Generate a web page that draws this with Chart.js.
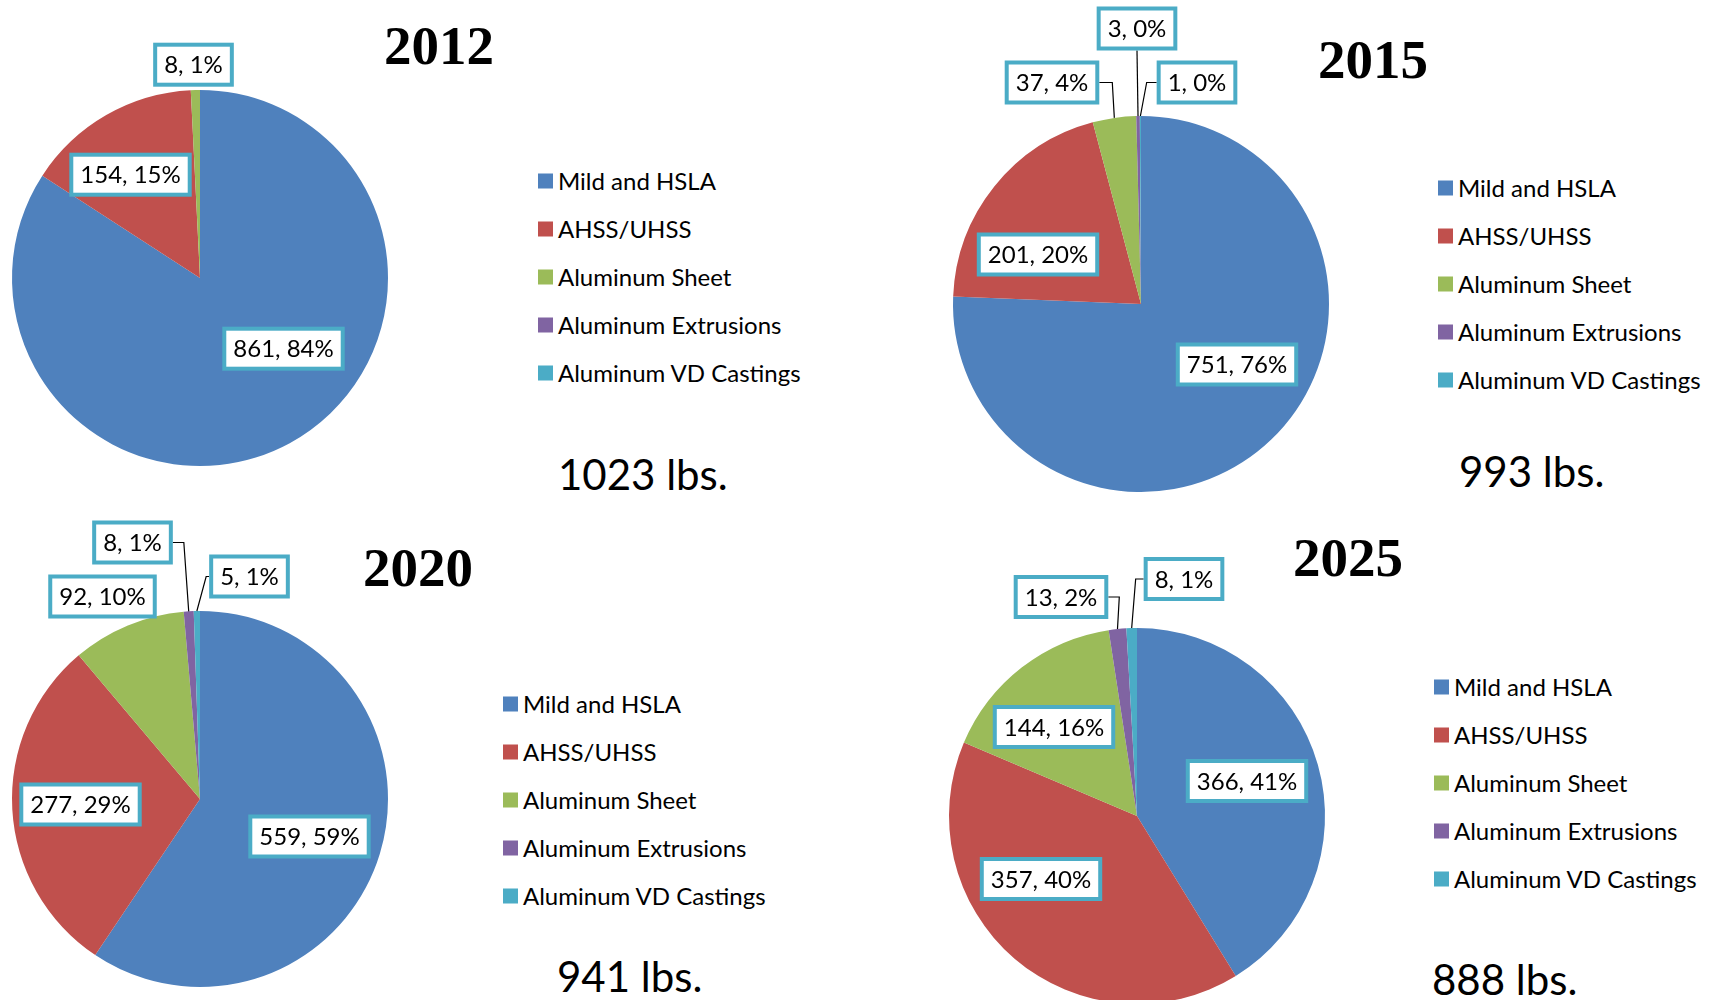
<!DOCTYPE html>
<html>
<head>
<meta charset="utf-8">
<title>Vehicle material mix</title>
<script src="https://cdn.jsdelivr.net/npm/chart.js@4.4.0/dist/chart.umd.min.js"></script>
<style>
  html, body { margin: 0; padding: 0; background: #fff; }
  body { width: 1721px; height: 1000px; position: relative; overflow: hidden; font-family: Lato, "Open Sans", sans-serif; color: #000; }
  canvas.pie { position: absolute; }
  .title { position: absolute; font-family: "Liberation Serif", serif; font-weight: bold; font-size: 55px; line-height: 1; transform: translate(-50%, -50%); white-space: nowrap; }
  .item { position: absolute; font-size: 24px; line-height: 1; white-space: nowrap; transform: translateY(-50%); }
  .swatch { position: absolute; width: 15px; height: 15px; transform: translateY(-50%); }
  .total { position: absolute; font-size: 42px; line-height: 1; white-space: nowrap; transform: translateY(-50%); }
</style>
</head>
<body>
<script>
  const categories = ["Mild and HSLA", "AHSS/UHSS", "Aluminum Sheet", "Aluminum Extrusions", "Aluminum VD Castings"];
  const years = ["2012", "2015", "2020", "2025"];

  // lbs per vehicle, per material
  const values2012 = [861, 154, 8, 0, 0];
  const values2015 = [751, 201, 37, 3, 1];
  const values2020 = [559, 277, 92, 8, 5];
  const values2025 = [366, 357, 144, 13.4, 8];

  const colors = ["#4F81BD", "#C0504D", "#9BBB59", "#8064A2", "#4BACC6"];

  // where each panel sits on the page; spots = label box offset from pie centre [dx, dy, leader, elbow]
  const panels = [
    { values: values2012, year: years[0], cx: 199.5, cy: 278.3, title: [439, 45], legend: [538, 181], total: [558, 474],
      spots: [[83.5, 70.7], [-69.5, -103.3], [-6.5, -213.3], null, null] },
    { values: values2015, year: years[1], cx: 1141, cy: 303.5, title: [1373, 59], legend: [1438, 188], total: [1459, 471],
      spots: [[96, 60.5], [-103, -49.5], [-89, -221.5, "left", 13], [-4, -275.5, "down"], [56, -221.5, "right", 10]] },
    { values: values2020, year: years[2], cx: 199.5, cy: 798.5, title: [418, 567], legend: [503, 704], total: [557, 976],
      spots: [[109.5, 37.5], [-119.5, 5.5], [-97.5, -202.5], [-67.5, -256.5, "left", 11], [49.5, -222.5, "right", 3]] },
    { values: values2025, year: years[3], cx: 1137, cy: 816, title: [1348, 557], legend: [1434, 687], total: [1432, 979],
      spots: [[110, -35], [-96, 63], [-83, -89], [-76, -219, "left", 11], [47, -237, "right", 8]] }
  ];

  const R = 188;
  const CW = 480, CH = 600;

  // boxed "value, pct%" labels like the Excel data labels
  const boxLabels = {
    id: "boxLabels",
    afterDraw(chart, args, opts) {
      const ctx = chart.ctx;
      const meta = chart.getDatasetMeta(0);
      const values = chart.data.datasets[0].data;
      const total = values.reduce((a, b) => a + b, 0);
      ctx.save();
      ctx.font = "24px Lato";
      const capH = ctx.measureText("0").actualBoundingBoxAscent;
      meta.data.forEach((arc, i) => {
        const spot = opts.spots[i];
        if (!spot || !values[i]) return;
        const p = arc.getProps(["x", "y", "startAngle", "endAngle", "outerRadius"], true);
        const text = Math.round(values[i]) + ", " + Math.round(values[i] / total * 100) + "%";
        const w = ctx.measureText(text).width + 18;
        const h = 40;
        const bx = p.x + spot[0];
        const by = p.y + spot[1];

        if (spot[2]) {
          const mid = (p.startAngle + p.endAngle) / 2;
          const ax = p.x + Math.cos(mid) * p.outerRadius;
          const ay = p.y + Math.sin(mid) * p.outerRadius;
          ctx.strokeStyle = "#000";
          ctx.lineWidth = 1.2;
          ctx.beginPath();
          if (spot[2] === "down") {
            ctx.moveTo(bx, by + h / 2 + 2);
            ctx.lineTo(ax, ay);
          } else {
            const dir = spot[2] === "left" ? 1 : -1;
            const sx = bx + dir * (w / 2 + 2);
            ctx.moveTo(sx, by);
            ctx.lineTo(sx + dir * spot[3], by);
            ctx.lineTo(ax, ay);
          }
          ctx.stroke();
        }

        ctx.fillStyle = "#fff";
        ctx.fillRect(bx - w / 2, by - h / 2, w, h);
        ctx.strokeStyle = "#4BACC6";
        ctx.lineWidth = 4;
        ctx.strokeRect(bx - w / 2, by - h / 2, w, h);
        ctx.fillStyle = "#000";
        ctx.textAlign = "center";
        ctx.textBaseline = "alphabetic";
        ctx.fillText(text, bx, by + capH / 2);
      });
      ctx.restore();
    }
  };

  panels.forEach((pn) => {
    const canvas = document.createElement("canvas");
    canvas.className = "pie";
    canvas.width = CW;
    canvas.height = CH;
    canvas.style.left = (pn.cx - CW / 2) + "px";
    canvas.style.top = (pn.cy - CH / 2) + "px";
    document.body.appendChild(canvas);

    new Chart(canvas, {
      type: "pie",
      data: {
        labels: categories,
        datasets: [{ data: pn.values, backgroundColor: colors, borderWidth: 0, hoverOffset: 0, offset: 0 }]
      },
      options: {
        responsive: false,
        animation: false,
        layout: { padding: { left: CW / 2 - R, right: CW / 2 - R, top: CH / 2 - R, bottom: CH / 2 - R } },
        plugins: {
          legend: { display: false },
          tooltip: { enabled: false },
          boxLabels: { spots: pn.spots }
        }
      },
      plugins: [boxLabels]
    });

    const t = document.createElement("div");
    t.className = "title";
    t.textContent = pn.year;
    t.style.left = pn.title[0] + "px";
    t.style.top = pn.title[1] + "px";
    document.body.appendChild(t);

    categories.forEach((c, i) => {
      const y = pn.legend[1] + i * 48;
      const sw = document.createElement("div");
      sw.className = "swatch";
      sw.style.background = colors[i];
      sw.style.left = pn.legend[0] + "px";
      sw.style.top = y + "px";
      document.body.appendChild(sw);
      const it = document.createElement("div");
      it.className = "item";
      it.textContent = c;
      it.style.left = (pn.legend[0] + 20) + "px";
      it.style.top = y + "px";
      document.body.appendChild(it);
    });

    const tot = document.createElement("div");
    tot.className = "total";
    tot.textContent = Math.round(pn.values.reduce((a, b) => a + b, 0)) + " lbs.";
    tot.style.left = pn.total[0] + "px";
    tot.style.top = pn.total[1] + "px";
    document.body.appendChild(tot);
  });
</script>
</body>
</html>
